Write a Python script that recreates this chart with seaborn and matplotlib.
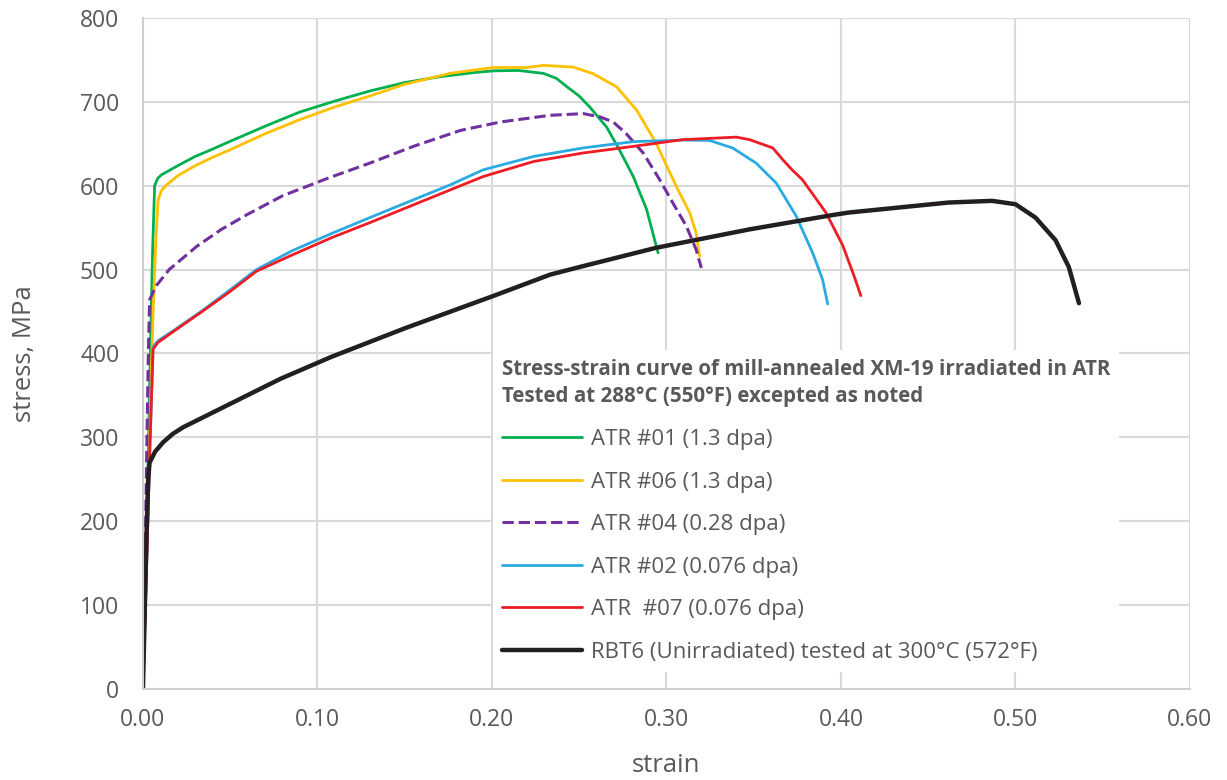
import matplotlib
matplotlib.use("Agg")
import matplotlib.pyplot as plt
import seaborn as sns
import pandas as pd

# ---- data ----
g_x = [0, 0.002, 0.004, 0.0055, 0.0067, 0.0085, 0.0106, 0.02, 0.03, 0.038, 0.05, 0.07, 0.09, 0.11, 0.13, 0.15,
       0.17, 0.19, 0.201, 0.215, 0.2295, 0.237, 0.243, 0.25, 0.256, 0.2657, 0.273, 0.281, 0.2886, 0.2952]
g_y = [0, 180, 380, 520, 600, 609, 613, 624, 635, 642, 653, 671, 688, 701, 713, 723,
       730, 735, 737, 737.5, 734, 728, 718, 707, 694, 670, 643, 611, 572, 520]

y_x = [0, 0.002, 0.004, 0.006, 0.0075, 0.0087, 0.0105, 0.0135, 0.02, 0.03, 0.04, 0.05, 0.07, 0.09, 0.11, 0.13,
       0.15, 0.176, 0.19, 0.201, 0.22, 0.2295, 0.2467, 0.258, 0.2714, 0.283, 0.294, 0.3057, 0.3133, 0.317, 0.319]
y_y = [0, 150, 320, 460, 540, 583, 594, 601, 612, 624, 634, 643, 662, 679, 694, 707,
       721, 734, 738, 741, 741, 743.5, 741.5, 733.6, 718, 690, 651, 599, 568, 544, 516]

p_x = [0, 0.001, 0.002, 0.003, 0.0038, 0.0077, 0.015, 0.031, 0.045, 0.06, 0.08, 0.106, 0.13, 0.155, 0.182,
       0.2048, 0.2333, 0.2524, 0.262, 0.2695, 0.277, 0.2867, 0.2962, 0.3038, 0.3114, 0.317, 0.32]
p_y = [0, 120, 260, 390, 464, 481, 500, 528, 548, 566, 588, 609, 627, 647, 666,
       676, 684, 686, 682, 676, 662, 639, 607, 579, 552, 524, 502]

b_x = [0, 0.002, 0.004, 0.0058, 0.0085, 0.0173, 0.0346, 0.05, 0.065, 0.085, 0.108, 0.13, 0.15, 0.176, 0.195,
       0.224, 0.252, 0.281, 0.3095, 0.3248, 0.338, 0.3514, 0.363, 0.3743, 0.3838, 0.3895, 0.3924]
b_y = [0, 140, 290, 408, 415, 427, 452, 476, 500, 522, 543, 562, 579, 601, 619,
       635, 645, 652.6, 654.5, 654, 645, 627, 603, 564, 520, 488, 459]

r_x = [0, 0.002, 0.004, 0.0058, 0.0085, 0.0173, 0.0346, 0.05, 0.065, 0.085, 0.108, 0.13, 0.15, 0.176, 0.195,
       0.224, 0.252, 0.281, 0.3095, 0.34, 0.3476, 0.361, 0.3667, 0.372, 0.378, 0.3914, 0.401, 0.4076, 0.4114]
r_y = [0, 140, 290, 405, 413, 426, 451, 474, 498, 517, 538, 556, 573, 595, 611,
       629, 639, 647, 655, 658, 655, 645, 631, 619, 607, 568, 529, 492, 469]

k_x = [0, 0.001, 0.002, 0.003, 0.0038, 0.007, 0.0115, 0.017, 0.023, 0.05, 0.079, 0.108, 0.15, 0.2, 0.2333, 0.25,
       0.294, 0.3476, 0.395, 0.4042, 0.4425, 0.4617, 0.4866, 0.5, 0.5115, 0.523, 0.5306, 0.5364]
k_y = [0, 90, 180, 250, 270, 283, 294, 304, 312, 340, 370, 396, 430, 468, 494, 503,
       526, 548, 565, 568, 576, 580, 582, 578, 562, 535, 503, 460]

labels = ["ATR #01 (1.3 dpa)", "ATR #06 (1.3 dpa)", "ATR #04 (0.28 dpa)",
          "ATR #02 (0.076 dpa)", "ATR  #07 (0.076 dpa)",
          "RBT6 (Unirradiated) tested at 300°C (572°F)"]
legend_title = ("Stress-strain curve of mill-annealed XM-19 irradiated in ATR\n"
                "Tested at 288°C (550°F) excepted as noted")
x_ticks = [0.0, 0.1, 0.2, 0.3, 0.4, 0.5, 0.6]
y_ticks = [0, 100, 200, 300, 400, 500, 600, 700, 800]

# ---- style ----
sns.set_theme(style="white")
plt.rcParams['font.family'] = ['Open Sans', 'DejaVu Sans']
TXT = "#595959"

series = [(g_x, g_y), (y_x, y_y), (p_x, p_y), (b_x, b_y), (r_x, r_y), (k_x, k_y)]
colors = ["#00B050", "#FFC000", "#7030A0", "#29ABE2", "#EE1C25", "#231F20"]
styles = ["-", "-", "--", "-", "-", "-"]
widths = [2.0, 2.0, 2.2, 2.0, 2.0, 3.2]

fig = plt.figure(figsize=(12.27, 7.80), dpi=100)
ax = fig.add_axes([0.1165, 0.1167, 0.8533, 0.8602])

for (xs, ys), lab, c, ls, lw in zip(series, labels, colors, styles, widths):
    df = pd.DataFrame({"strain": xs, "stress": ys})
    sns.lineplot(data=df, x="strain", y="stress", ax=ax, sort=False, estimator=None,
                 color=c, linestyle=ls, linewidth=lw, label=lab)

ax.set_xlim(0, 0.6)
ax.set_ylim(0, 800)
ax.set_xticks(x_ticks)
ax.set_yticks(y_ticks)
ax.set_xticklabels([f"{v:.2f}" for v in x_ticks])
ax.set_yticklabels([str(v) for v in y_ticks])
ax.tick_params(axis="both", length=0, labelsize=16.5, colors=TXT)
ax.tick_params(axis="y", pad=17)
ax.tick_params(axis="x", pad=14)
ax.grid(True, color="#D9D9D9", linewidth=1.5)
ax.set_axisbelow(True)
for s in ["top", "right"]:
    ax.spines[s].set_visible(False)
for s in ["left", "bottom"]:
    ax.spines[s].set_color("#CFCFCF")
    ax.spines[s].set_linewidth(1.5)

ax.set_xlabel("strain", fontsize=18.5, color=TXT, labelpad=15)
ax.set_ylabel("stress, MPa", fontsize=18.5, color=TXT, labelpad=31)

leg = ax.legend(loc="upper left", bbox_to_anchor=(0.3235, 0.522), title=legend_title,
                fontsize=16, title_fontproperties={"weight": "bold", "size": 14.8},
                frameon=True, fancybox=False, facecolor="white", edgecolor="none",
                framealpha=1.0, handlelength=3.6, labelspacing=0.97, handletextpad=0.4,
                borderpad=0.4, alignment="left")
leg.get_title().set_color(TXT)
leg.get_title().set_linespacing(1.42)
for t in leg.get_texts():
    t.set_color(TXT)

fig.savefig("out.png", dpi=100)
